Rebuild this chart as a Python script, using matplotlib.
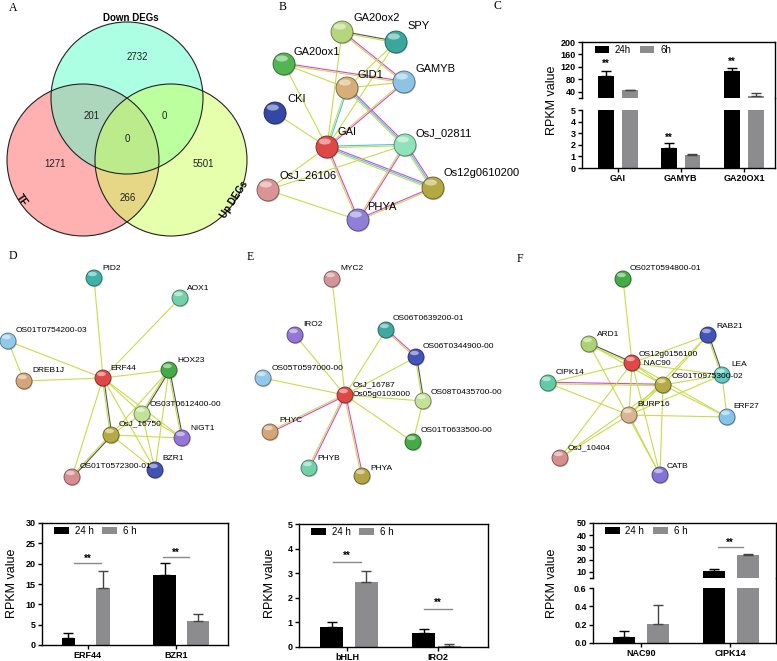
import numpy as np
import matplotlib
matplotlib.use("Agg")
import matplotlib.pyplot as plt
import matplotlib.colors as mcolors
from matplotlib.patches import Circle, Ellipse

plt.rcParams['font.family'] = ['Liberation Sans', 'DejaVu Sans']

W, H = 777, 661

# ---------------- data ----------------
venn_labels = ['Down DEGs', 'TF', 'Up DEGs']
venn_only = [2732, 1271, 5501]          # down, tf, up
venn_pairs = [201, 0, 266]              # down&tf, down&up, tf&up
venn_all = 0

times = ['24 h', '6 h']

c_genes = ['GAI', 'GAMYB', 'GA20OX1']
c_24h = [92, 1.75, 106]
c_24h_err = [15, 0.38, 9]
c_6h = [45, 1.1, 26]
c_6h_err = [2, 0.15, 10]
c_sig = [True, True, True]

d_genes = ['ERF44', 'BZR1']
d_24h = [1.8, 17.1]
d_24h_err = [1.1, 3.0]
d_6h = [14.0, 6.0]
d_6h_err = [4.2, 1.6]
d_sig_y = [20.2, 21.6]

e_genes = ['bHLH', 'IRO2']
e_24h = [0.82, 0.57]
e_24h_err = [0.19, 0.18]
e_6h = [2.65, 0.05]
e_6h_err = [0.43, 0.09]
e_sig_y = [3.46, 1.55]

f_genes = ['NAC90', 'CIPK14']
f_24h = [0.065, 10.8]
f_24h_err = [0.065, 1.5]
f_6h = [0.21, 23.5]
f_6h_err = [0.2, 1.5]
f_sig_y = [None, 30]

# ---------------- networks (STRING style) ----------------
# name, node x, node y, colour, label x, label y  (pixel layout)
nodes_b = [
    ('GA20ox2', 342, 32, '#b5d67c', 353, 18),
    ('SPY', 396, 42, '#3aa79d', 407, 26),
    ('GA20ox1', 284, 64, '#53b552', 294, 52),
    ('GID1', 347, 88, '#d6ae78', 357, 75),
    ('GAMYB', 404, 82, '#8ec3e3', 415, 69),
    ('CKI', 275, 113, '#3447a6', 287, 99),
    ('GAI', 327, 147, '#e04848', 338, 132),
    ('OsJ_02811', 405, 145, '#8fe2b9', 415, 133),
    ('OsJ_26106', 268, 190, '#d99595', 280, 175),
    ('Os12g0610200', 433, 188, '#b3a842', 443, 173),
    ('PHYA', 358, 220, '#8f7fd6', 367, 207),
]
edges_b = [
    ('GA20ox2', 'SPY', 'gy'), ('GA20ox2', 'GAMYB', 'my'), ('GA20ox2', 'GAI', 'y'),
    ('SPY', 'GID1', 'y'), ('SPY', 'GAI', 'y'),
    ('GA20ox1', 'GAMYB', 'my'), ('GA20ox1', 'GID1', 'y'), ('GA20ox1', 'GAI', 'y'),
    ('GID1', 'GAMYB', 'y'), ('GID1', 'GAI', 'cy'), ('GID1', 'OsJ_02811', 'mcy'),
    ('GAMYB', 'GAI', 'my'), ('CKI', 'GAI', 'y'),
    ('GAI', 'OsJ_02811', 'cy'), ('GAI', 'Os12g0610200', 'mcy'), ('GAI', 'OsJ_26106', 'y'),
    ('GAI', 'PHYA', 'my'),
    ('OsJ_02811', 'OsJ_26106', 'y'), ('OsJ_02811', 'PHYA', 'my'),
    ('OsJ_02811', 'Os12g0610200', 'mcy'),
    ('OsJ_26106', 'PHYA', 'y'), ('PHYA', 'Os12g0610200', 'my'),
]

nodes_d = [
    ('PID2', 94, 278, '#3fb1a9', 102, 269),
    ('AOX1', 180, 298, '#73d1aa', 187, 288),
    ('OS01T0754200-03', 8, 341, '#93c9e8', 16, 331),
    ('DREB1J', 24, 381, '#d4a577', 32, 370),
    ('ERF44', 103, 378, '#e04848', 110, 368),
    ('HOX23', 169, 370, '#45ab45', 177, 360),
    ('OS03T0612400-00', 142, 414, '#c3e297', 150, 405),
    ('OsJ_16750', 111, 435, '#b5ab45', 119, 424),
    ('NIGT1', 182, 438, '#9476d6', 190, 428),
    ('BZR1', 155, 470, '#4353b3', 162, 459),
    ('OS01T0572300-01', 72, 477, '#d68e8e', 80, 467),
]
edges_d = [
    ('PID2', 'ERF44', 'y'), ('AOX1', 'ERF44', 'y'), ('OS01T0754200-03', 'ERF44', 'y'),
    ('OS01T0754200-03', 'DREB1J', 'y'), ('DREB1J', 'ERF44', 'y'), ('ERF44', 'HOX23', 'y'),
    ('ERF44', 'OsJ_16750', 'gy'), ('ERF44', 'OS03T0612400-00', 'y'), ('ERF44', 'NIGT1', 'y'),
    ('ERF44', 'BZR1', 'y'), ('ERF44', 'OS01T0572300-01', 'y'),
    ('HOX23', 'OS03T0612400-00', 'gy'), ('HOX23', 'NIGT1', 'gy'), ('HOX23', 'OsJ_16750', 'y'),
    ('HOX23', 'BZR1', 'y'), ('OS03T0612400-00', 'NIGT1', 'y'), ('OS03T0612400-00', 'BZR1', 'y'),
    ('OsJ_16750', 'NIGT1', 'y'), ('OsJ_16750', 'BZR1', 'y'), ('OsJ_16750', 'OS01T0572300-01', 'gy'),
    ('OS03T0612400-00', 'OsJ_16750', 'y'),
]

HUB_E = 'OsJ_16787\nOs05g0103000'
nodes_e = [
    ('MYC2', 332, 279, '#d39696', 340, 269),
    ('IRO2', 295, 335, '#9476d6', 303, 324),
    ('OS06T0639200-01', 386, 330, '#3fa9a1', 393, 319),
    ('OS06T0344900-00', 416, 357, '#4353b8', 423, 346),
    ('OS05T0597000-00', 263, 378, '#93c9e8', 272, 368),
    (HUB_E, 345, 395, '#e04848', 353, 390),
    ('OS08T0435700-00', 423, 401, '#c3e297', 431, 392),
    ('PHYC', 270, 432, '#d4a577', 279, 421),
    ('OS01T0633500-00', 413, 442, '#45ab45', 421, 431),
    ('PHYB', 309, 468, '#73d1aa', 317, 459),
    ('PHYA', 362, 476, '#b5a445', 370, 468),
]
edges_e = [(HUB_E, n, 'y') for n in ['MYC2', 'IRO2', 'OS06T0639200-01', 'OS06T0344900-00',
                                     'OS05T0597000-00', 'OS08T0435700-00', 'OS01T0633500-00']]
edges_e += [(HUB_E, 'PHYC', 'my'), (HUB_E, 'PHYB', 'my'), (HUB_E, 'PHYA', 'my'),
            ('OS06T0639200-01', 'OS06T0344900-00', 'my'),
            ('OS06T0344900-00', 'OS08T0435700-00', 'gy'),
            ('OS08T0435700-00', 'OS01T0633500-00', 'y')]

HUB_F = 'OS12g0156100\n  NAC90'
nodes_f = [
    ('OS02T0594800-01', 623, 279, '#45ab45', 630, 269),
    ('RAB21', 708, 335, '#4353b8', 716, 326),
    ('ARD1', 589, 344, '#abd273', 597, 335),
    (HUB_F, 632, 363, '#e04848', 639, 359),
    ('LEA', 722, 375, '#63cbc3', 731, 364),
    ('CIPK14', 548, 383, '#63cba3', 556, 372),
    ('OS01T0975300-02', 663, 385, '#b5ab45', 672, 376),
    ('BURP16', 629, 415, '#dbb58d', 637, 404),
    ('ERF27', 727, 417, '#85c3e8', 733, 407),
    ('OsJ_10404', 560, 458, '#d68e8e', 568, 448),
    ('CATB', 660, 475, '#8373d3', 667, 467),
]
edges_f = [
    ('OS02T0594800-01', HUB_F, 'y'), ('ARD1', HUB_F, 'gy'), ('ARD1', 'OS01T0975300-02', 'y'),
    ('ARD1', 'CATB', 'y'), ('CIPK14', 'OS01T0975300-02', 'my'), ('CIPK14', HUB_F, 'y'),
    ('CIPK14', 'BURP16', 'y'), (HUB_F, 'RAB21', 'y'), (HUB_F, 'LEA', 'y'),
    (HUB_F, 'OS01T0975300-02', 'y'), (HUB_F, 'ERF27', 'y'), (HUB_F, 'BURP16', 'y'),
    (HUB_F, 'CATB', 'y'), (HUB_F, 'OsJ_10404', 'y'), ('RAB21', 'LEA', 'gy'),
    ('RAB21', 'OS01T0975300-02', 'y'), ('RAB21', 'BURP16', 'y'), ('LEA', 'OS01T0975300-02', 'y'),
    ('LEA', 'ERF27', 'y'), ('LEA', 'BURP16', 'y'), ('OS01T0975300-02', 'ERF27', 'y'),
    ('OS01T0975300-02', 'CATB', 'y'), ('OS01T0975300-02', 'OsJ_10404', 'y'),
    ('BURP16', 'ERF27', 'y'), ('BURP16', 'OsJ_10404', 'y'), ('BURP16', 'CATB', 'y'),
    ('BURP16', 'OS01T0975300-02', 'y'),
]

EDGE_COLORS = {'y': '#c6dd4c', 'm': '#d844d8', 'c': '#44c4e4', 'g': '#505050'}
BLACK = '#000000'
GREY = '#8c8c8e'
TICK_FS = 6.5
STAR_FS = 7

fig = plt.figure(figsize=(W / 100, H / 100), dpi=100)
canvas = fig.add_axes([0, 0, 1, 1])
canvas.set_xlim(0, W)
canvas.set_ylim(H, 0)
canvas.axis('off')


def px_axes(left, top, right, bottom):
    return fig.add_axes([left / W, 1 - bottom / H, (right - left) / W, (bottom - top) / H])


def draw_network(nodes, edges, r, fs):
    pos = {n[0]: np.array(n[1:3], dtype=float) for n in nodes}
    for a, b, kinds in edges:
        p, q = pos[a], pos[b]
        d = q - p
        nrm = np.array([-d[1], d[0]]) / np.hypot(*d)
        for i, k in enumerate(kinds):
            off = (i - (len(kinds) - 1) / 2) * 1.5
            canvas.plot([p[0] + nrm[0] * off, q[0] + nrm[0] * off],
                        [p[1] + nrm[1] * off, q[1] + nrm[1] * off],
                        color=EDGE_COLORS[k], lw=0.8, zorder=2, solid_capstyle='butt')
    for name, x, y, col, lx, ly in nodes:
        dark = np.array(mcolors.to_rgb(col)) * 0.55
        canvas.add_patch(Circle((x + 0.7, y + 1.1), r, color='black', alpha=0.25, lw=0, zorder=3))
        canvas.add_patch(Circle((x, y), r, facecolor=col, edgecolor=dark, lw=0.6, zorder=4))
        canvas.add_patch(Ellipse((x - 0.2 * r, y - 0.5 * r), 1.1 * r, 0.55 * r,
                                 facecolor='white', alpha=0.5, lw=0, zorder=5))
        canvas.text(lx, ly, name, fontsize=fs, ha='left', va='center', zorder=6,
                    linespacing=1.55)


# ---------------- panel A: Venn ----------------
venn_centres = [(127, 98), (83, 160), (171, 160)]
venn_fill = ['#5cffc8', '#ff6262', '#ccff5c']
for (cx, cy), col in zip([venn_centres[1], venn_centres[0], venn_centres[2]],
                         [venn_fill[1], venn_fill[0], venn_fill[2]]):
    canvas.add_patch(Circle((cx, cy), 76, facecolor=col, alpha=0.5, lw=0, zorder=1))
for cx, cy in venn_centres:
    canvas.add_patch(Circle((cx, cy), 76, facecolor='none', edgecolor='#222222', lw=0.8, zorder=1.5))
num_pos = [(137, 57), (55, 164), (203, 164), (92, 116), (164, 116), (128, 198), (127, 139)]
for (x, y), v in zip(num_pos, venn_only + venn_pairs + [venn_all]):
    canvas.text(x, y, str(v), fontsize=7, ha='center', va='center', color='#222222')
canvas.text(131, 18, venn_labels[0], fontsize=7, fontweight='bold', ha='center', va='center')
canvas.text(22, 200, venn_labels[1], fontsize=7, fontweight='bold', ha='center', va='center',
            rotation=-55)
canvas.text(234, 200, venn_labels[2], fontsize=7, fontweight='bold', ha='center', va='center',
            rotation=57)

# ---------------- networks ----------------
draw_network(nodes_b, edges_b, 11, 8)
draw_network(nodes_d, edges_d, 8, 6)
draw_network(nodes_e, edges_e, 8, 6)
draw_network(nodes_f, edges_f, 8, 6)

for lab, x, y in [('A', 13, 8), ('B', 283, 7), ('C', 497, 6), ('D', 13, 256), ('E', 250, 257),
                  ('F', 520, 259)]:
    canvas.text(x, y, lab, fontsize=8.5, family='Liberation Serif', ha='center', va='center')


# ---------------- bar charts ----------------
def style(ax):
    for s in ax.spines.values():
        s.set_linewidth(1.0)
    ax.tick_params(direction='out', length=3, width=1, labelsize=TICK_FS, pad=1.5)


def draw_bars(ax, x24, x6, w24, w6, v24, e24, v6, e6, legend=True):
    ax.bar(x24, v24, w24, color=BLACK, label=times[0] if legend else None)
    ax.bar(x6, v6, w6, color=GREY, label=times[1] if legend else None)
    z = np.zeros(len(v24))
    ax.errorbar(x24, v24, yerr=[z, e24], fmt='none', ecolor=BLACK, elinewidth=1,
                capsize=3.5, capthick=1)
    ax.errorbar(x6, v6, yerr=[z, e6], fmt='none', ecolor='#444444', elinewidth=1,
                capsize=3.5, capthick=1)
    ax.set_xlim(0, 1)


def add_legend(ax, labels=None):
    h, l = ax.get_legend_handles_labels()
    if labels:
        l = labels
    ax.legend(h, l, loc='upper left', bbox_to_anchor=(0.05, 1.0), ncol=2, frameon=False,
              fontsize=7, handlelength=1.5, handleheight=0.75, handletextpad=0.6,
              columnspacing=0.9, borderaxespad=0, borderpad=0.3)


def simple_panel(rect, genes, xc, x24, x6, w24, w6, v24, e24, v6, e6, ymax, step, sig_y, star_dy):
    ax = px_axes(*rect)
    draw_bars(ax, x24, x6, w24, w6, v24, e24, v6, e6)
    ax.set_ylim(0, ymax)
    yt = np.arange(0, ymax + step / 2, step)
    ax.set_yticks(yt, [f'{v:g}' for v in yt], fontweight='bold')
    ax.set_xticks(xc, genes, fontweight='bold')
    style(ax)
    for x, y in zip(xc, sig_y):
        if y is None:
            continue
        ax.plot([x - 0.072, x + 0.072], [y, y], color='#8a8a8a', lw=1)
        ax.text(x, y + star_dy, '**', fontsize=STAR_FS, fontweight='bold', ha='center', va='center')
    add_legend(ax)
    return ax


# D
simple_panel((42, 523, 228, 645), d_genes, [0.245, 0.72], [0.142, 0.659], [0.328, 0.839],
             [0.07, 0.124], [0.075, 0.118], d_24h, d_24h_err, d_6h, d_6h_err, 30, 5,
             d_sig_y, 1.1)
fig.text(12 / W, 1 - 583 / H, 'RPKM value', rotation=90, fontsize=9, ha='center', va='center')

# E
simple_panel((299, 524, 488, 647), e_genes, [0.254, 0.735], [0.172, 0.661], [0.357, 0.796],
             0.122, 0.122, e_24h, e_24h_err, e_6h, e_6h_err, 5, 1, e_sig_y, 0.26)
fig.text(270 / W, 1 - 583 / H, 'RPKM value', rotation=90, fontsize=9, ha='center', va='center')


def broken_panel(rect_top, rect_bot, genes, xc, x24, x6, w, v24, e24, v6, e6,
                 top_lim, top_ticks, bot_lim, bot_ticks, legend_labels):
    ax_t = px_axes(*rect_top)
    ax_b = px_axes(*rect_bot)
    draw_bars(ax_t, x24, x6, w, w, v24, e24, v6, e6, legend=True)
    draw_bars(ax_b, x24, x6, w, w, v24, e24, v6, e6, legend=False)
    ax_t.set_ylim(*top_lim)
    ax_b.set_ylim(*bot_lim)
    ax_t.set_yticks(top_ticks, [f'{v:g}' for v in top_ticks], fontweight='bold')
    ax_b.set_yticks(bot_ticks, [f'{v:.1f}' if bot_lim[1] < 1 else f'{v:g}' for v in bot_ticks],
                    fontweight='bold')
    ax_b.set_xticks(xc, genes, fontweight='bold')
    style(ax_t)
    style(ax_b)
    ax_t.spines['bottom'].set_visible(False)
    ax_t.tick_params(axis='x', bottom=False, labelbottom=False)
    ax_b.spines['top'].set_visible(False)
    # bridge the right frame over the gap, and mark the break on the left axis
    gap = (rect_bot[1] - rect_top[3]) / (rect_bot[3] - rect_bot[1]) * (bot_lim[1] - bot_lim[0])
    ax_b.spines['right'].set_bounds(bot_lim[0], bot_lim[1] + gap)
    tl = 3 / (rect_top[2] - rect_top[0])
    ax_t.plot([-tl, 0], [0, 0], transform=ax_t.transAxes, color='black', lw=1, clip_on=False)
    add_legend(ax_t, legend_labels)
    return ax_t, ax_b


# C
c_t, c_b = broken_panel((582, 42, 775, 98), (582, 110, 775, 168), c_genes, [0.187, 0.511, 0.84],
                        [0.123, 0.451, 0.778], [0.25, 0.572, 0.903], 0.081,
                        c_24h, c_24h_err, c_6h, c_6h_err, (20, 200), [40, 80, 120, 160, 200],
                        (0, 5), [0, 1, 2, 3, 4, 5], ['24h', '6h'])
for x, v, e, s in zip([0.123, 0.451, 0.778], c_24h, c_24h_err, c_sig):
    if not s:
        continue
    if v > 5:
        c_t.text(x, v + e + 22, '**', fontsize=STAR_FS, fontweight='bold', ha='center', va='center')
    else:
        c_b.text(x, v + e + 0.5, '**', fontsize=STAR_FS, fontweight='bold', ha='center', va='center')
fig.text(552 / W, 1 - 100 / H, 'RPKM value', rotation=90, fontsize=9, ha='center', va='center')

# F
f_t, f_b = broken_panel((593, 523, 776, 578), (593, 588, 776, 643), f_genes, [0.262, 0.749],
                        [0.169, 0.661], [0.355, 0.847], 0.12,
                        f_24h, f_24h_err, f_6h, f_6h_err, (5, 50), [10, 20, 30, 40, 50],
                        (0, 0.6), [0, 0.2, 0.4, 0.6], None)
for x, y in zip([0.262, 0.749], f_sig_y):
    if y is None:
        continue
    f_t.plot([x - 0.068, x + 0.068], [y, y], color='#8a8a8a', lw=1)
    f_t.text(x, y + 3.9, '**', fontsize=STAR_FS, fontweight='bold', ha='center', va='center')
fig.text(552 / W, 1 - 583 / H, 'RPKM value', rotation=90, fontsize=9, ha='center', va='center')

fig.savefig('out.png', dpi=100)
